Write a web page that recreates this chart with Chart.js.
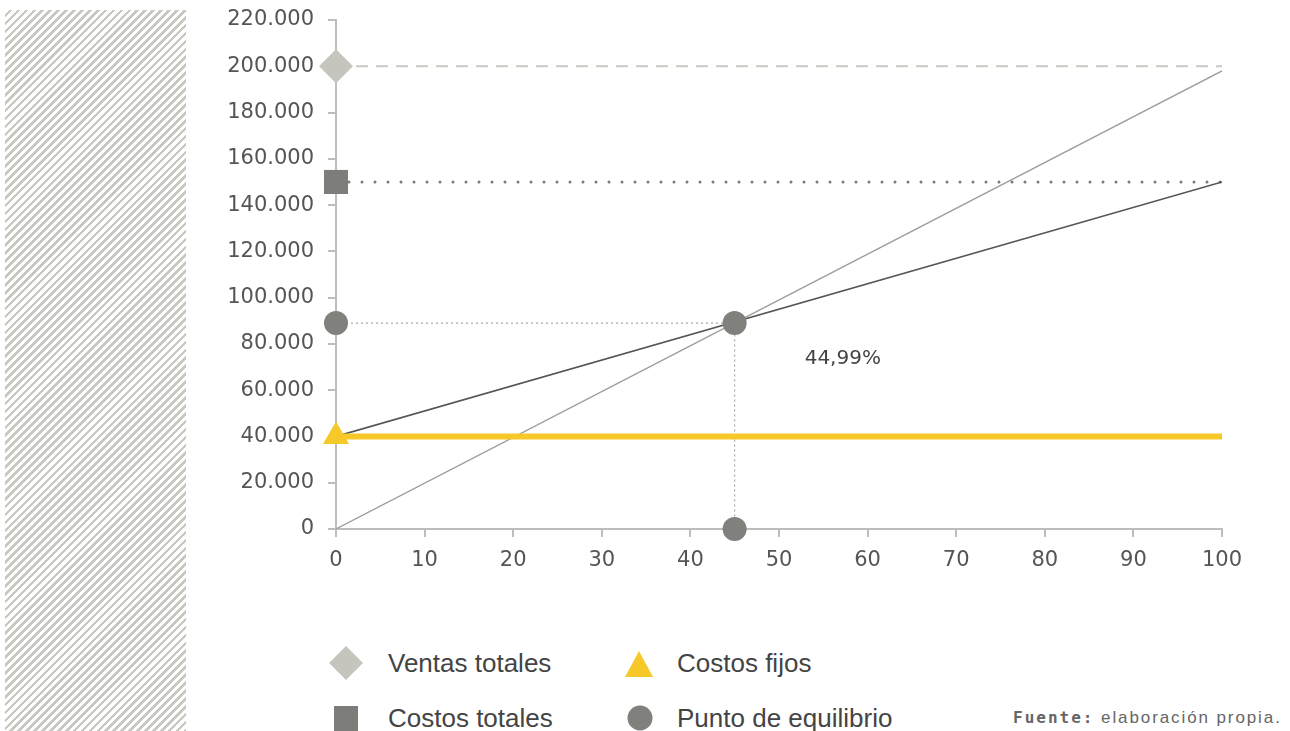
<!DOCTYPE html>
<html lang="es">
<head>
<meta charset="utf-8">
<title>Punto de equilibrio</title>
<script src="https://cdn.jsdelivr.net/npm/chart.js@4.4.1/dist/chart.umd.min.js"></script>
<style>
  html, body { margin: 0; padding: 0; background: #fff; }
  body { width: 1290px; height: 731px; position: relative; overflow: hidden; font-family: "Liberation Sans", Arial, sans-serif; }
  #hatch {
    position: absolute; left: 5px; top: 10px; width: 181px; height: 721px;
    background: repeating-linear-gradient(135deg, #fff 0px, #fff 3px, #c9c8c0 3px, #c9c8c0 5.6px);
  }
  #wrap { position: absolute; left: 0; top: 0; width: 1290px; height: 600px; }
  .leg { position: absolute; font-size: 26px; color: #444; line-height: 1; }
  .sym { position: absolute; }
  #fuente { position: absolute; left: 1013px; top: 708px; font-size: 17px; letter-spacing: 1.9px; color: #666; white-space: nowrap; }
  #fuente b { font-family: "DejaVu Sans Mono", monospace; font-size: 16px; letter-spacing: 2px; }
</style>
</head>
<body>
<div id="hatch"></div>
<div id="wrap"><canvas id="c" width="1290" height="600"></canvas></div>

<svg class="sym" style="left:328px;top:645px" width="36" height="36"><polygon points="18,1 35,18 18,35 1,18" fill="#c6c5bd"/></svg>
<div class="leg" style="left:388px;top:650px">Ventas totales</div>
<svg class="sym" style="left:624px;top:650px" width="30" height="28"><polygon points="15,1 29,27 1,27" fill="#f6c828"/></svg>
<div class="leg" style="left:677px;top:650px">Costos fijos</div>
<svg class="sym" style="left:334px;top:706px" width="24" height="25"><rect x="0" y="0" width="24" height="25" fill="#7d7d79"/></svg>
<div class="leg" style="left:388px;top:705px">Costos totales</div>
<svg class="sym" style="left:627px;top:705px" width="26" height="26"><circle cx="13" cy="13" r="12.5" fill="#80807c"/></svg>
<div class="leg" style="left:677px;top:705px">Punto de equilibrio</div>
<div id="fuente"><b>Fuente:</b> elaboración propia.</div>

<script>
// Volumen de actividad (%) en el eje horizontal
const xTicks = [0, 10, 20, 30, 40, 50, 60, 70, 80, 90, 100];
const yTicks = [0, 20000, 40000, 60000, 80000, 100000, 120000, 140000, 160000, 180000, 200000, 220000];

// Rectas de ingresos y costos (valor en 0 % y en 100 %)
const ventasTotales = [0, 198000];
const costosTotales = [40000, 150000];
const costosFijos = [40000, 40000];

// Punto de equilibrio
const equilibrioPct = 44.99;
const equilibrioValor = 89000;
const equilibrioLabel = '44,99%';

// Valores de referencia marcados sobre el eje vertical
const refVentas = 200000;
const refCostos = 150000;

const fmt = v => String(v).replace(/\B(?=(\d{3})+(?!\d))/g, '.');
const seg = (a, b) => [{ x: 0, y: a }, { x: 100, y: b }];
const tickFont = { family: "'DejaVu Sans', sans-serif", size: 21 };

const labelPlugin = {
  id: 'equilibrioLabel',
  afterDatasetsDraw(chart) {
    const { ctx, scales: { x, y } } = chart;
    ctx.save();
    ctx.font = "20px 'DejaVu Sans', sans-serif";
    ctx.fillStyle = '#444';
    ctx.textAlign = 'center';
    ctx.textBaseline = 'middle';
    ctx.fillText(equilibrioLabel, x.getPixelForValue(57.2), y.getPixelForValue(73600));
    ctx.restore();
  }
};

new Chart(document.getElementById('c'), {
  type: 'scatter',
  data: {
    datasets: [
      // marcadores
      { data: [{ x: 0, y: refVentas }], pointStyle: 'rectRot', pointRadius: 17, backgroundColor: '#c6c5bd', borderWidth: 0, clip: false, order: 0 },
      { data: [{ x: 0, y: refCostos }], pointStyle: 'rect', pointRadius: 17, backgroundColor: '#7d7d79', borderWidth: 0, clip: false, order: 0 },
      { data: [{ x: 0, y: equilibrioValor }, { x: equilibrioPct, y: equilibrioValor }, { x: equilibrioPct, y: 0 }], pointStyle: 'circle', pointRadius: 12, backgroundColor: '#80807c', borderWidth: 0, clip: false, order: 0 },
      { data: [{ x: 0, y: costosFijos[0] }], pointStyle: 'triangle', pointRadius: 15, backgroundColor: '#f6c828', borderWidth: 0, clip: false, order: 0 },
      // rectas
      { data: seg(ventasTotales[0], ventasTotales[1]), showLine: true, borderColor: '#9d9d9b', borderWidth: 1.3, pointRadius: 0, order: 3 },
      { data: seg(costosTotales[0], costosTotales[1]), showLine: true, borderColor: '#555553', borderWidth: 1.6, pointRadius: 0, order: 3 },
      { data: seg(costosFijos[0], costosFijos[1]), showLine: true, borderColor: '#f6c828', borderWidth: 6, pointRadius: 0, order: 2 },
      // líneas de referencia
      { data: seg(refVentas, refVentas), showLine: true, borderColor: '#c9c8c1', borderWidth: 2, borderDash: [12, 8], pointRadius: 0, order: 4 },
      { data: seg(refCostos, refCostos), showLine: true, borderColor: '#7a7a78', borderWidth: 3, borderDash: [0, 13], borderCapStyle: 'round', pointRadius: 0, order: 4 },
      { data: [{ x: 0, y: equilibrioValor }, { x: equilibrioPct, y: equilibrioValor }, { x: equilibrioPct, y: 0 }], showLine: true, borderColor: '#a9a9a7', borderWidth: 1.2, borderDash: [2, 3], pointRadius: 0, order: 4 }
    ]
  },
  options: {
    responsive: false,
    animation: false,
    layout: { padding: { left: 0, right: 68, top: 20, bottom: 0 } },
    plugins: { legend: { display: false }, tooltip: { enabled: false } },
    scales: {
      x: {
        type: 'linear', min: 0, max: 100,
        afterBuildTicks: s => { s.ticks = xTicks.map(v => ({ value: v })); },
        ticks: { font: tickFont, color: '#555', padding: 11, maxRotation: 0 },
        grid: { drawOnChartArea: false, drawTicks: true, tickLength: 8, color: '#bdbdbb', lineWidth: 2 },
        border: { display: true, color: '#bdbdbb', width: 2 },
        afterFit: s => { s.height = 71; s.paddingLeft = 0; s.paddingRight = 0; }
      },
      y: {
        type: 'linear', min: 0, max: 220000,
        afterBuildTicks: s => { s.ticks = yTicks.map(v => ({ value: v })); },
        ticks: { font: tickFont, color: '#555', padding: 14, callback: v => fmt(v) },
        grid: { drawOnChartArea: false, drawTicks: true, tickLength: 8, color: '#bdbdbb', lineWidth: 2 },
        border: { display: true, color: '#bdbdbb', width: 2 },
        afterFit: s => { s.width = 336; s.paddingTop = 0; s.paddingBottom = 0; }
      }
    }
  },
  plugins: [labelPlugin]
});
</script>
</body>
</html>
